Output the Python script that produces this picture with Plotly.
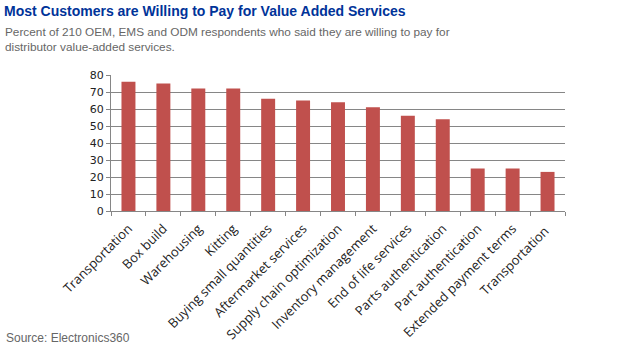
import plotly.graph_objects as go

categories = ["Transportation", "Box build", "Warehousing", "Kitting",
              "Buying small quantities", "Aftermarket services",
              "Supply chain optimization", "Inventory management",
              "End of life services", "Parts authentication",
              "Part authentication", "Extended payment terms",
              "Transportation "]
values = [76, 75, 72, 72, 66, 65, 64, 61, 56, 54, 25, 25, 23]
y_ticks = [0, 10, 20, 30, 40, 50, 60, 70, 80]

fig = go.Figure(go.Bar(x=categories, y=values, marker_color="#C0504D",
                       marker_line_width=0, width=0.4))

fig.update_layout(
    width=620, height=349,
    margin=dict(l=111, r=55, t=75, b=138),
    plot_bgcolor="white", paper_bgcolor="white",
    showlegend=False,
    font=dict(family="Liberation Sans, Arial", color="#222"),
)
fig.update_xaxes(
    type="category", tickson="boundaries", ticks="outside", ticklen=4,
    tickcolor="#868686", showline=True, linecolor="#868686", linewidth=1,
    tickangle=-45, tickfont=dict(family="Open Sans", size=13, color="#222"),
    ticklabelstandoff=4, showgrid=False, automargin=False,
)
fig.update_yaxes(
    range=[0, 80], tickvals=y_ticks, ticks="outside", ticklen=4,
    tickcolor="#868686", showline=True, linecolor="#868686", linewidth=1,
    showgrid=True, gridcolor="#868686", gridwidth=1, zeroline=False,
    tickfont=dict(family="DejaVu Sans", size=11, color="#222"),
    automargin=False,
)

fig.add_annotation(text="<b>Most Customers are Willing to Pay for Value Added Services</b>",
                   xref="paper", yref="paper", x=0, y=1, xanchor="left", yanchor="top",
                   xshift=-109, yshift=74, showarrow=False,
                   font=dict(family="Liberation Sans", size=14, color="#003399"))
fig.add_annotation(text="Percent of 210 OEM, EMS and ODM respondents who said they are willing to pay for<br>distributor value-added services.",
                   xref="paper", yref="paper", x=0, y=1, xanchor="left", yanchor="top",
                   xshift=-108, yshift=52, showarrow=False, align="left",
                   font=dict(family="Liberation Sans", size=11.8, color="#666666"))
fig.add_annotation(text="Source: Electronics360",
                   xref="paper", yref="paper", x=0, y=0, xanchor="left", yanchor="bottom",
                   xshift=-107, yshift=-136, showarrow=False,
                   font=dict(family="Liberation Sans", size=12, color="#666666"))

fig.write_html("out.html")
